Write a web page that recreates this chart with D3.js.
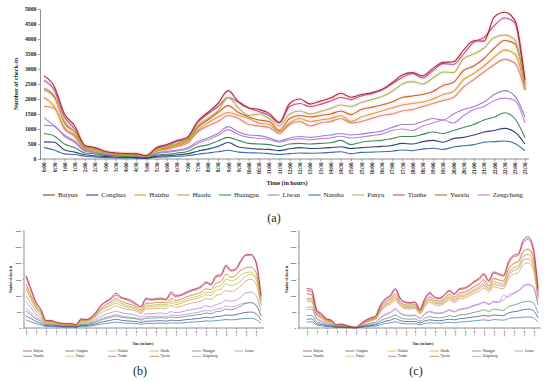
<!DOCTYPE html>
<html>
<head>
<meta charset="utf-8">
<script src="https://cdn.jsdelivr.net/npm/d3@7"></script>
<style>
  body { margin: 0; background: #fff; }
  svg { display: block; }
  text { font-family: "Liberation Serif", "Times New Roman", serif; fill: #222; }
</style>
</head>
<body>
<div id="chart"></div>
<script>
// 1: DATA
const districts = ["Baiyun", "Conghua", "Haizhu", "Huadu", "Huangpu", "Liwan",
                   "Nansha", "Panyu", "Tianhe", "Yuexiu", "Zengcheng"];
const colors = ["#a3302b", "#2f3f80", "#d9a21f", "#d58a62", "#3d8c50", "#9a80c8",
                "#3a6ea8", "#9cc43c", "#c44a8c", "#c8670f", "#c27fe0"];

const halfHourLabels = ["0:00","0:30","1:00","1:30","2:00","2:30","3:00","3:30","4:00","4:30",
  "5:00","5:30","6:00","6:30","7:00","7:30","8:00","8:30","9:00","9:30","10:00","10:30",
  "11:00","11:30","12:00","12:30","13:00","13:30","14:00","14:30","15:00","15:30","16:00",
  "16:30","17:00","17:30","18:00","18:30","19:00","19:30","20:00","20:30","21:00","21:30",
  "22:00","22:30","23:00","23:30"];
const hourLabels = ["0:00","1:00","2:00","3:00","4:00","5:00","6:00","7:00","8:00","9:00",
  "10:00","11:00","12:00","13:00","14:00","15:00","16:00","17:00","18:00","19:00","20:00",
  "21:00","22:00","23:00"];

// (a) one row per district, same order as `districts`
const valuesA = [
  [2770,2420,1500,1100,450,380,250,200,180,170,110,380,480,620,720,1250,1550,1850,2280,1900,1700,1650,1520,1220,1850,2000,1830,1930,2030,2190,2060,2150,2210,2320,2540,2800,2880,2770,3020,3220,3240,3630,3940,3930,4740,4890,4630,2630],
  [570,560,300,230,140,110,80,60,50,45,30,90,110,140,170,260,330,420,550,400,360,330,320,280,340,380,350,360,380,410,350,380,400,420,450,520,500,580,620,560,680,720,800,900,950,1020,900,500],
  [2050,1750,1050,800,350,300,200,170,150,140,90,280,350,460,570,950,1200,1400,1550,1450,1350,1200,1150,900,1200,1350,1250,1300,1350,1450,1250,1400,1500,1600,1700,1800,1850,1900,2000,2150,2250,2650,2850,3100,3400,3630,3500,2400],
  [1760,1700,1000,750,320,280,190,160,140,130,80,260,320,420,520,900,1100,1250,1450,1350,1150,1100,1050,850,1150,1250,1100,1200,1250,1350,1200,1250,1350,1450,1500,1600,1650,1750,1850,1950,2050,2400,2650,2900,3150,3320,3200,2300],
  [850,770,500,380,200,170,120,100,80,70,50,130,160,200,250,400,470,600,720,620,520,500,480,420,500,520,500,520,540,620,480,560,600,620,680,750,750,820,900,850,950,1050,1150,1300,1400,1540,1350,700],
  [1380,1100,800,600,280,230,160,130,110,100,70,200,250,300,370,580,700,850,1080,900,800,780,700,600,700,750,720,760,800,850,800,830,880,930,1050,1150,1150,1250,1350,1300,1500,1650,1750,1900,2150,2280,2100,1400],
  [380,300,170,150,90,70,50,40,35,30,20,60,70,90,110,160,200,240,290,230,210,200,180,150,180,200,190,200,220,240,180,220,230,240,260,300,280,330,360,320,400,440,480,560,580,600,520,280],
  [2300,2050,1250,900,380,330,230,180,160,150,100,320,400,520,640,1100,1350,1600,2050,1700,1450,1500,1350,1100,1500,1600,1500,1580,1680,1800,1750,1880,1980,2080,2250,2500,2580,2500,2700,2900,2880,3350,3500,3700,4050,4130,3980,2300],
  [2620,2300,1400,1000,420,350,240,190,170,160,100,350,440,580,680,1200,1500,1750,2050,1900,1700,1580,1450,1200,1750,1850,1750,1820,1930,2050,1980,2100,2180,2300,2500,2720,2850,2700,2950,3180,3150,3500,3900,4050,4450,4700,4550,2300],
  [2350,2100,1200,900,380,330,220,180,160,150,100,300,380,500,620,1050,1300,1550,1780,1550,1400,1300,1250,950,1350,1450,1400,1450,1500,1600,1480,1650,1720,1800,1900,2050,2100,2150,2250,2450,2550,2950,3100,3350,3700,3950,3850,2500],
  [1120,1100,750,550,260,210,150,120,100,90,60,180,220,270,330,520,640,780,980,820,720,690,650,560,640,680,640,680,700,760,700,730,780,830,950,1000,950,1100,1200,1300,1200,1450,1650,1750,1950,2030,1950,1200]
];

// (b)
const valuesB = [
  [1620,1200,800,570,230,230,180,150,130,140,100,280,260,330,490,700,820,920,1070,950,900,850,750,650,920,880,900,920,880,1100,1000,1020,1100,1160,1210,1280,1410,1350,1600,1640,1930,1770,1820,2080,2250,2260,2030,1000],
  [370,290,200,140,70,70,55,45,40,42,30,75,75,95,130,180,210,240,270,240,220,210,200,170,210,210,220,225,210,240,225,235,255,270,285,300,330,310,350,360,400,390,410,450,480,490,440,240],
  [1200,880,600,420,180,180,140,120,100,105,80,210,210,260,370,530,620,690,760,700,650,620,570,480,650,650,670,680,670,770,720,750,820,860,900,950,1020,1000,1150,1200,1350,1300,1350,1450,1600,1650,1500,780],
  [1000,750,520,360,160,160,120,100,90,95,70,180,180,220,320,460,540,600,680,620,580,560,520,440,590,590,600,610,600,690,640,670,720,760,790,830,900,880,1000,1040,1150,1120,1180,1300,1450,1500,1350,700],
  [520,400,280,200,100,100,75,60,50,55,40,100,100,130,180,250,290,330,370,330,310,300,280,240,300,300,310,320,300,340,320,330,360,380,400,420,460,440,500,520,580,560,600,680,760,780,700,360],
  [820,620,420,300,130,130,100,85,70,80,60,150,150,180,260,360,420,470,520,470,440,420,390,330,440,440,450,460,440,500,470,490,530,560,590,620,680,650,720,760,850,820,860,950,1080,1100,1000,520],
  [250,190,130,95,50,50,40,30,25,28,20,50,50,65,90,120,140,160,180,160,150,145,135,115,140,140,145,150,140,160,150,155,170,180,190,200,220,210,230,240,260,250,260,280,290,300,260,140],
  [1250,920,620,440,190,190,150,120,100,110,80,220,220,270,390,560,660,740,830,760,700,660,610,520,700,700,720,730,720,830,780,810,880,930,960,1020,1100,1080,1260,1300,1500,1450,1500,1640,1700,1720,1580,820],
  [1560,1150,760,540,220,220,170,140,120,130,95,260,250,310,460,680,800,880,1000,920,880,800,720,640,880,860,870,880,860,1040,960,1000,1060,1130,1180,1240,1380,1320,1560,1600,1880,1750,1800,2050,2230,2240,2000,950],
  [1350,1000,680,480,200,200,160,130,110,120,90,240,230,290,420,600,720,800,900,820,760,720,660,560,760,760,780,790,770,900,840,880,950,1000,1040,1100,1200,1180,1380,1420,1650,1560,1620,1780,1850,1870,1700,880],
  [600,470,330,240,110,110,85,70,60,65,50,120,120,150,210,290,330,370,410,370,350,330,310,270,350,350,360,370,350,400,380,390,420,450,470,500,540,520,580,600,680,650,680,740,770,780,700,380]
];

// (c)
const valuesC = [
  [1210,1190,570,440,290,240,100,120,80,40,20,130,240,310,370,700,900,1000,1210,920,800,780,800,570,900,1090,950,920,1020,1160,1050,1210,1230,1310,1430,1520,1670,1460,1720,1670,1620,2030,2230,2280,2690,2800,2490,1210],
  [270,280,140,105,70,60,25,30,20,10,5,30,55,75,95,160,210,240,290,230,200,195,200,155,215,250,230,225,245,270,250,285,295,320,340,360,390,360,400,390,380,460,500,520,560,580,540,320],
  [880,860,430,320,210,180,70,90,58,28,13,95,180,240,290,540,700,780,920,730,630,620,640,470,700,850,760,740,810,920,830,950,970,1040,1130,1200,1310,1170,1350,1310,1290,1600,1760,1820,2080,2120,1950,940],
  [820,800,400,300,190,170,65,85,55,26,12,90,170,220,270,500,650,730,850,680,590,580,600,440,650,790,710,690,760,860,780,890,910,980,1060,1120,1230,1100,1270,1230,1210,1500,1650,1700,1950,2000,1830,880],
  [380,390,200,150,95,80,35,40,28,14,7,40,75,100,125,220,290,330,400,320,280,270,280,210,300,350,320,310,340,380,350,400,410,440,480,510,560,510,580,560,540,660,700,750,800,820,780,450],
  [620,650,300,220,140,120,50,60,40,20,10,60,110,150,180,330,430,490,600,470,400,390,400,300,440,520,470,460,500,560,510,580,600,640,700,740,800,740,820,800,860,1000,1080,1150,1300,1350,1250,700],
  [180,190,95,70,45,40,18,20,14,7,4,20,35,50,60,105,140,160,190,150,130,125,130,100,140,160,150,145,160,175,160,185,190,205,220,235,250,230,260,250,240,290,310,320,330,340,310,190],
  [920,900,450,340,220,190,75,95,62,30,14,100,190,250,300,560,730,820,960,760,660,650,670,490,740,890,790,770,850,960,870,1000,1020,1090,1180,1260,1380,1220,1420,1380,1350,1680,1850,1900,2200,2260,2060,980],
  [1150,1120,540,420,270,230,95,115,75,38,18,125,230,300,360,680,870,970,1180,900,780,760,780,560,880,1060,930,900,1000,1130,1030,1180,1200,1280,1400,1490,1630,1430,1680,1640,1590,1980,2180,2230,2620,2720,2420,1150],
  [1050,1020,500,380,250,210,85,105,70,35,16,110,210,270,330,620,800,890,1050,820,710,700,720,520,800,960,850,830,910,1030,940,1070,1100,1170,1270,1350,1480,1300,1520,1480,1440,1800,1980,2040,2350,2420,2200,1050],
  [560,580,280,200,130,110,45,55,36,18,9,55,100,140,170,310,400,460,560,440,380,370,380,290,420,490,450,440,480,540,490,550,580,620,680,720,780,720,800,780,1000,950,1050,1120,1250,1320,1280,720]
];

// 2: SVG
const W = 550, H = 382;
const svg = d3.select("#chart").append("svg").attr("width", W).attr("height", H);

// 3: ONE PANEL
function drawPanel(values, p) {
  const g = svg.append("g");
  const x = d3.scaleLinear().domain([0, 47]).range([p.xFirst, p.xLast]);
  const y = d3.scaleLinear().domain([0, p.yMax]).range([p.yBot, p.yTop]);

  // axes
  const yAxis = g.append("g")
    .attr("transform", `translate(${p.axisX},0)`)
    .call(d3.axisLeft(y).tickValues(d3.range(0, p.yMax + 1, 500)).tickFormat(d3.format("d"))
      .tickSize(p.tick).tickSizeOuter(0));
  yAxis.select(".domain").attr("stroke", "#444").attr("stroke-width", 0.6);
  yAxis.selectAll(".tick line").attr("stroke", "#444").attr("stroke-width", 0.5);
  yAxis.selectAll("text")
    .attr("x", -p.tick - 1.5)
    .style("font-size", p.tickFont + "px")
    .style("font-weight", "bold")
    .style("font-family", "'Liberation Serif', serif");

  const xAxis = g.append("g")
    .attr("transform", `translate(0,${p.yBot})`)
    .call(d3.axisBottom(x).tickValues(d3.range(0, 48, p.every)).tickSize(p.tick)
      .tickFormat(i => p.labels[i / p.every]));
  xAxis.select(".domain").remove();
  xAxis.selectAll(".tick line").attr("stroke", "#444").attr("stroke-width", 0.5);
  xAxis.selectAll("text")
    .attr("transform", "rotate(-90)")
    .attr("text-anchor", "end")
    .attr("x", -p.tick - 1.5)
    .attr("y", 0)
    .attr("dy", "0.35em")
    .style("font-size", p.xTickFont + "px")
    .style("font-weight", "bold")
    .style("font-family", "'Liberation Serif', serif");
  g.append("line")
    .attr("x1", p.axisX).attr("x2", p.axisEnd)
    .attr("y1", p.yBot).attr("y2", p.yBot)
    .attr("stroke", "#444").attr("stroke-width", 0.6);

  // lines
  const line = d3.line()
    .x((d, i) => x(i))
    .y(d => y(d))
    .curve(d3.curveMonotoneX);

  const order = d3.range(districts.length).reverse();
  g.append("g").selectAll("path")
    .data(order.filter(k => values[k][45] > p.glowMin))
    .join("path")
    .attr("d", k => line(values[k]))
    .attr("fill", "none")
    .attr("stroke", "#f6b4e0")
    .attr("stroke-opacity", 0.22)
    .attr("stroke-width", p.lineW * 4);
  g.append("g").selectAll("path")
    .data(order)
    .join("path")
    .attr("d", k => line(values[k]))
    .attr("fill", "none")
    .attr("stroke", k => colors[k])
    .attr("stroke-width", p.lineW);

  // axis titles
  g.append("text")
    .attr("transform", `translate(${p.yTitleX},${(p.yTop + p.yBot) / 2}) rotate(-90)`)
    .attr("text-anchor", "middle")
    .attr("dy", "0.35em")
    .style("font-size", p.titleFont + "px")
    .style("font-weight", "bold")
    .text("Number of check-in");
  g.append("text")
    .attr("x", p.xTitleX).attr("y", p.xTitleY)
    .attr("text-anchor", "middle")
    .style("font-size", p.titleFont + "px")
    .style("font-weight", "bold")
    .text("Time (in hours)");

  // panel letter
  g.append("text")
    .attr("x", p.letterX).attr("y", p.letterY)
    .attr("text-anchor", "middle")
    .style("font-size", "12px")
    .text(p.letter);

  return g;
}

// 4: PANELS
const gA = drawPanel(valuesA, {
  axisX: 40, axisEnd: 529, xFirst: 44, xLast: 525, yTop: 9, yBot: 159, yMax: 5000,
  tick: 2, tickFont: 5.8, xTickFont: 5.2, every: 1, labels: halfHourLabels,
  lineW: 1.1, glowMin: 3000, titleFont: 6.2, yTitleX: 16, xTitleX: 287, xTitleY: 185,
  letter: "(a)", letterX: 274, letterY: 222
});
const gB = drawPanel(valuesB, {
  axisX: 23.5, axisEnd: 264, xFirst: 26, xLast: 261, yTop: 230.3, yBot: 328, yMax: 3000,
  tick: 1, tickFont: 2.8, xTickFont: 2.6, every: 2, labels: hourLabels,
  lineW: 0.7, glowMin: 2000, titleFont: 3.2, yTitleX: 11, xTitleX: 143, xTitleY: 345,
  letter: "(b)", letterX: 140, letterY: 375
});
const gC = drawPanel(valuesC, {
  axisX: 298.5, axisEnd: 541, xFirst: 306.7, xLast: 538, yTop: 230.3, yBot: 328, yMax: 3000,
  tick: 1, tickFont: 2.8, xTickFont: 2.6, every: 2, labels: hourLabels,
  lineW: 0.7, glowMin: 2000, titleFont: 3.2, yTitleX: 287, xTitleX: 423, xTitleY: 345,
  letter: "(c)", letterX: 416, letterY: 375
});

// 5: LEGENDS
// (a) one row, spread from x=43 to x=523
const legA = gA.append("g");
const itemsA = legA.selectAll("g").data(districts).join("g");
itemsA.append("text")
  .attr("x", 15).attr("y", 0).attr("dy", "0.35em")
  .style("font-size", "6.8px")
  .text(d => d);
const widthsA = itemsA.select("text").nodes().map(n => n.getComputedTextLength() + 15);
const gapA = (523 - 43 - d3.sum(widthsA)) / (districts.length - 1);
let cursor = 43;
itemsA.each(function (d, i) {
  d3.select(this).attr("transform", `translate(${cursor},195)`);
  cursor += widthsA[i] + gapA;
});
itemsA.append("line")
  .attr("x1", 0).attr("x2", 12).attr("y1", 0).attr("y2", 0)
  .attr("stroke", (d, i) => colors[i]).attr("stroke-width", 1.1);

// (b), (c) two rows of six
function smallLegend(g, x0) {
  const items = g.append("g").selectAll("g").data(districts).join("g")
    .attr("transform", (d, i) => `translate(${x0 + (i % 6) * 42.3},${351 + Math.floor(i / 6) * 5.3})`);
  items.append("line")
    .attr("x1", 0).attr("x2", 9).attr("y1", 0).attr("y2", 0)
    .attr("stroke", (d, i) => colors[i]).attr("stroke-width", 0.7);
  items.append("text")
    .attr("x", 10.5).attr("dy", "0.35em")
    .style("font-size", "3.3px")
    .text(d => d);
}
smallLegend(gB, 23);
smallLegend(gC, 303);
</script>
</body>
</html>
